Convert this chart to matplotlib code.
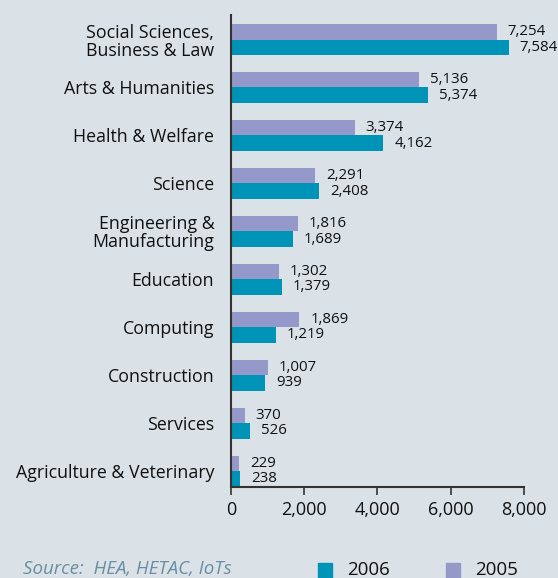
import matplotlib
matplotlib.use("Agg")
import matplotlib.pyplot as plt
import numpy as np
from matplotlib.patches import Rectangle

BG = "#dae2e8"
C2005 = "#9599c9"
C2006 = "#0093b8"

categories = ["Social Sciences,\nBusiness & Law", "Arts & Humanities", "Health & Welfare",
              "Science", "Engineering &\nManufacturing", "Education", "Computing",
              "Construction", "Services", "Agriculture & Veterinary"]
vals_2005 = [7254, 5136, 3374, 2291, 1816, 1302, 1869, 1007, 370, 229]
vals_2006 = [7584, 5374, 4162, 2408, 1689, 1379, 1219, 939, 526, 238]
xticks = [0, 2000, 4000, 6000, 8000]

plt.rcParams['font.family'] = ['Open Sans', 'DejaVu Sans']

fig = plt.figure(figsize=(5.58, 5.78), dpi=100)
fig.patch.set_facecolor(BG)
ax = fig.add_axes([0.414, 0.1574, 0.525, 0.8166])
ax.set_facecolor(BG)

y = np.arange(len(categories))
h = 0.323
ax.barh(y - h / 2, vals_2005, height=h, color=C2005, label="2005")
ax.barh(y + h / 2, vals_2006, height=h, color=C2006, label="2006")

for i in range(len(categories)):
    ax.annotate(f"{vals_2005[i]:,}", (vals_2005[i], y[i] - h / 2), xytext=(8, 0),
                textcoords="offset points", va="center", ha="left", fontsize=10.8, color="#111111")
    ax.annotate(f"{vals_2006[i]:,}", (vals_2006[i], y[i] + h / 2), xytext=(8, 0),
                textcoords="offset points", va="center", ha="left", fontsize=10.8, color="#111111")

ax.set_yticks(y)
ax.set_yticklabels(categories, fontsize=12.8, color="#111111", linespacing=1.0)
ax.tick_params(axis="y", length=0, pad=12)
ax.set_xticks(xticks)
ax.set_xticklabels([f"{t:,}" for t in xticks], fontsize=13, color="#111111")
ax.tick_params(axis="x", length=6, width=1.2, color="#333333", direction="out", pad=4)
ax.set_xlim(0, 8000)
ax.set_ylim(9.334, -0.511)

for s in ["top", "right"]:
    ax.spines[s].set_visible(False)
for s in ["left", "bottom"]:
    ax.spines[s].set_color("#333333")
    ax.spines[s].set_linewidth(1.5)

# source and legend
fig.text(23 / 558, 1 - 569 / 578, "Source:  HEA, HETAC, IoTs", fontsize=13.5, style="italic",
         color="#6a8ea0", va="center", ha="left")
for x0, col, lab in [(318, C2006, "2006"), (446, C2005, "2005")]:
    fig.patches.append(Rectangle((x0 / 558, 1 - 578 / 578), 14 / 558, 15 / 578,
                                 transform=fig.transFigure, color=col))
    fig.text((x0 + 29) / 558, 1 - 570 / 578, lab, fontsize=13.5, color="#111111",
             va="center", ha="left")

fig.savefig("out.png", dpi=100, facecolor=BG)
